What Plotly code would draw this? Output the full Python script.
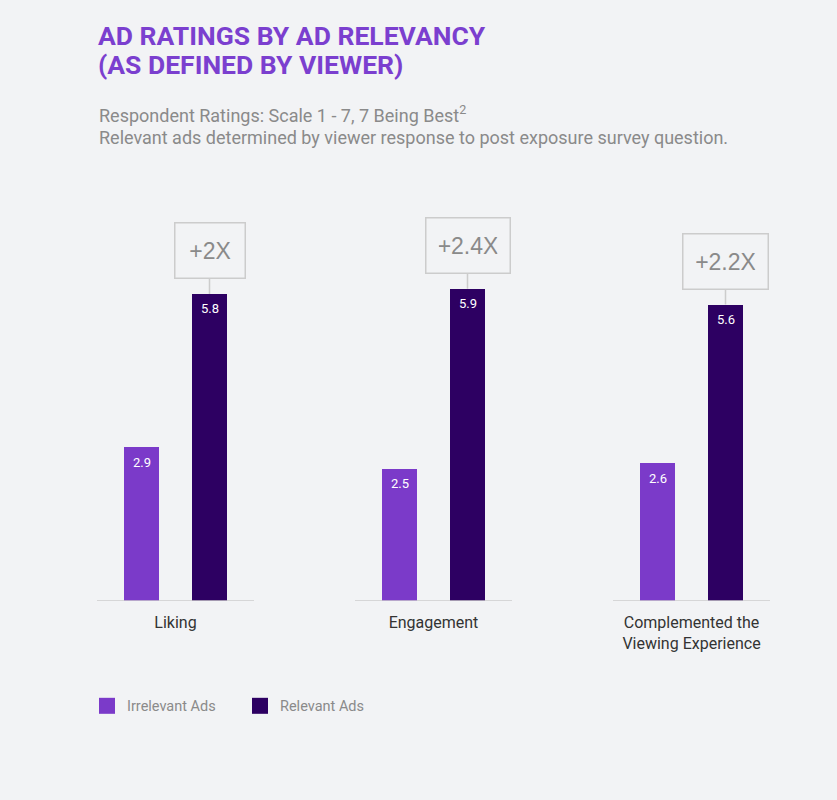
import plotly.graph_objects as go

# chart data
categories = ["Liking", "Engagement", "Complemented the<br>Viewing Experience"]
irrelevant = [2.9, 2.5, 2.6]
relevant = [5.8, 5.9, 5.6]
lifts = ["+2X", "+2.4X", "+2.2X"]
series_names = ["Irrelevant Ads", "Relevant Ads"]

# look
PURPLE = "#7b3ac9"
DARK = "#2d0062"
BG = "#f2f3f5"
GREY_TXT = "#8a8a8a"
LINE = "#cccccc"
FONT = "Roboto"
BOX_W = [45, 59, 60]  # inner widths of the lift boxes

# plot area in pixels, used to turn pixel layout into paper / data units
PLOT_L, PLOT_R, PLOT_T, PLOT_B = 60, 800, 203.5, 601
STEP = 258  # px between category centres
FIRST = 175.5  # px centre of first category


def px_x(p):
    return (p - PLOT_L) / (PLOT_R - PLOT_L)


def px_y(p):
    return (PLOT_B - p) / (PLOT_B - PLOT_T)


BAR_W = 35 / STEP
OFF_IRR = -51.5 / STEP
OFF_REL = 16.5 / STEP
C_IRR = OFF_IRR + BAR_W / 2
C_REL = OFF_REL + BAR_W / 2
HALF_BASE = 78.5 / STEP

xs = list(range(len(categories)))

fig = go.Figure()
fig.add_trace(go.Bar(x=xs, y=irrelevant, width=BAR_W, offset=OFF_IRR,
                     marker_color=PURPLE, marker_line_width=0,
                     name=series_names[0], showlegend=False))
fig.add_trace(go.Bar(x=xs, y=relevant, width=BAR_W, offset=OFF_REL,
                     marker_color=DARK, marker_line_width=0,
                     name=series_names[1], showlegend=False))

# legend entries as big squares
for name, col in zip(series_names, [PURPLE, DARK]):
    fig.add_trace(go.Scatter(x=[None], y=[None], mode="markers", name=name,
                             marker=dict(symbol="square", size=20, color=col)))

annotations = []
# value labels inside bar tops
for i in xs:
    for val, c in ((irrelevant[i], C_IRR), (relevant[i], C_REL)):
        annotations.append(dict(x=i + c, y=val, yshift=-15, text=f"{val}",
                                showarrow=False,
                                font=dict(family=FONT, size=13, color="white")))
    # lift boxes
    annotations.append(dict(x=i + C_REL, y=relevant[i], text=lifts[i],
                            showarrow=True, arrowhead=0, arrowwidth=1.5,
                            arrowcolor=LINE, ax=0, ay=-43, standoff=0,
                            width=BOX_W[i], height=30,
                            bordercolor=LINE, borderwidth=1.5, borderpad=12,
                            font=dict(family="Liberation Sans", size=23,
                                      color=GREY_TXT)))

# titles
annotations += [
    dict(xref="paper", yref="paper", x=px_x(96), y=px_y(35), xanchor="left",
         yanchor="middle", showarrow=False, text="<b>AD RATINGS BY AD RELEVANCY</b>",
         font=dict(family=FONT, size=26.5, color="#7b3fcf")),
    dict(xref="paper", yref="paper", x=px_x(96), y=px_y(64), xanchor="left",
         yanchor="middle", showarrow=False, text="<b>(AS DEFINED BY VIEWER)</b>",
         font=dict(family=FONT, size=26.5, color="#7b3fcf")),
    dict(xref="paper", yref="paper", x=px_x(97), y=px_y(113), xanchor="left",
         yanchor="middle", showarrow=False,
         text="Respondent Ratings: Scale 1 - 7, 7 Being Best<sup>2</sup>",
         font=dict(family=FONT, size=18, color=GREY_TXT)),
    dict(xref="paper", yref="paper", x=px_x(97), y=px_y(137), xanchor="left",
         yanchor="middle", showarrow=False,
         text="Relevant ads determined by viewer response to post exposure survey question.",
         font=dict(family=FONT, size=18, color=GREY_TXT)),
]

# separate baseline under each group
shapes = [dict(type="line", xref="x", yref="y", x0=i - HALF_BASE, x1=i + HALF_BASE,
               y0=0, y1=0, line=dict(color=LINE, width=1.5)) for i in xs]

x_lo = (PLOT_L - FIRST) / STEP
x_hi = (PLOT_R - FIRST) / STEP

fig.update_layout(
    width=837, height=800,
    margin=dict(l=PLOT_L, r=837 - PLOT_R, t=PLOT_T, b=800 - PLOT_B),
    paper_bgcolor=BG, plot_bgcolor=BG,
    annotations=annotations, shapes=shapes,
    bargap=0,
    xaxis=dict(range=[x_lo, x_hi], tickvals=xs, ticktext=categories,
               showgrid=False, zeroline=False, showline=False, ticks="",
               ticklabelstandoff=10,
               tickfont=dict(family=FONT, size=16, color="#333333"),
               fixedrange=True),
    yaxis=dict(range=[0, 7.5], visible=False, fixedrange=True),
    legend=dict(orientation="h", x=px_x(87), y=px_y(690), xanchor="left",
                yanchor="top", font=dict(family=FONT, size=14.5, color=GREY_TXT),
                entrywidth=108, itemsizing="trace"),
    font=dict(family=FONT),
)

fig.write_html("out.html", config={"displayModeBar": False},
               post_script="document.body.style.margin='0';")
